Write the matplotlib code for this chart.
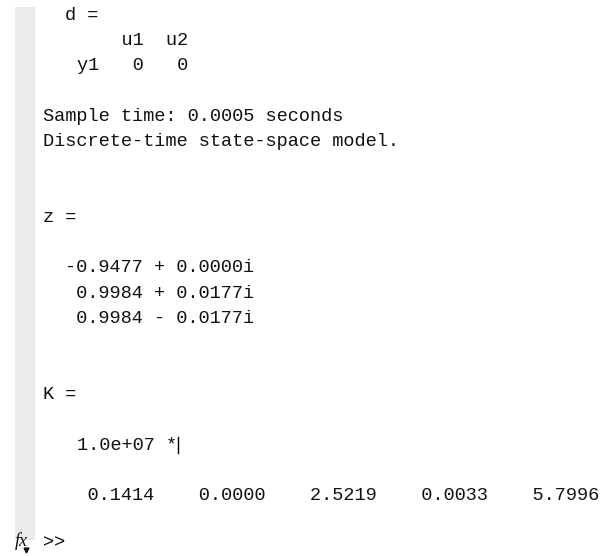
import matplotlib
matplotlib.use('Agg')
import matplotlib.pyplot as plt

# Data (MATLAB console output)
d_inputs = ['u1', 'u2']
d_outputs = ['y1']
d_values = [[0, 0]]
sample_time = 0.0005
z_real = [-0.9477, 0.9984, 0.9984]
z_imag = [0.0000, 0.0177, -0.0177]
k_scale = '1.0e+07'
k_values = [0.1414, 0.0000, 2.5219, 0.0033, 5.7996]

# Layout: a text grid in pixel units
W, H = 615, 556
x0, cw = 43, 11.2      # first column, char width
y0, lh = 15, 25.3      # first line, line height
font = dict(family='Liberation Mono', size=13.4, color='#111111')

fig = plt.figure(figsize=(W / 100, H / 100), dpi=100)
ax = fig.add_axes([0, 0, 1, 1])
ax.set_xlim(0, W)
ax.set_ylim(H, 0)
ax.axis('off')

# gray gutter on the left
ax.add_patch(plt.Rectangle((15, 7), 20, 533, color='#ebebeb', lw=0))


def put(line, col, s, dy=0):
    ax.text(x0 + col * cw, y0 + line * lh + dy, s, ha='left', va='center', **font)


# d matrix
put(0, 2, 'd =')
header = ''.join(f'{name:>4}' for name in d_inputs)
put(1, 3, ' ' * 2 + header)
for i, name in enumerate(d_outputs):
    put(2 + i, 3, name + ''.join(f'{v:>4}' for v in d_values[i]))

put(4, 0, f'Sample time: {sample_time} seconds')
put(5, 0, 'Discrete-time state-space model.')

# zeros
put(8, 0, 'z =')
for i, (re, im) in enumerate(zip(z_real, z_imag)):
    sign = '+' if im >= 0 else '-'
    put(10 + i, 2, f'{re:7.4f} {sign} {abs(im):.4f}i')

# gain
put(15, 0, 'K =')
put(17, 3, f'{k_scale} *')
cur_x = x0 + 12 * cw + 1
ax.plot([cur_x, cur_x], [y0 + 17 * lh - 8, y0 + 17 * lh + 8], color='black', lw=1)
put(19, 0, ''.join(f'{v:10.4f}' for v in k_values))

# prompt
yp = 543
ax.text(15, yp - 2, 'fx', family='Liberation Serif', style='italic',
        size=13, ha='left', va='center', color='#111111')
ax.plot([26], [yp + 7], marker='v', ms=3.5, color='#111111')
ax.text(x0, yp, '>>', ha='left', va='center', **font)

plt.savefig('out.png', dpi=100)
